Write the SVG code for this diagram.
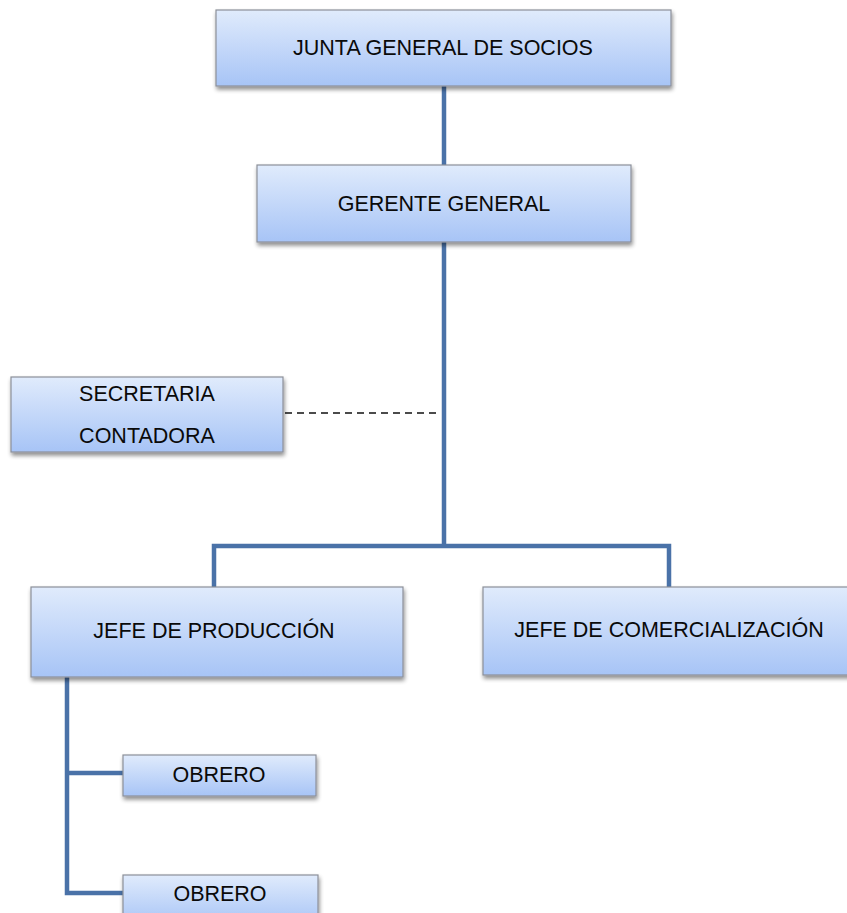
<svg xmlns="http://www.w3.org/2000/svg" width="847" height="913" viewBox="0 0 847 913">
<defs>
<linearGradient id="g" x1="0" y1="0" x2="0" y2="1">
<stop offset="0" stop-color="#e0ebfc"/>
<stop offset="1" stop-color="#a7c4f6"/>
</linearGradient>
<filter id="sh" x="-10%" y="-10%" width="120%" height="140%">
<feGaussianBlur in="SourceAlpha" stdDeviation="2"/>
<feOffset dx="1" dy="3"/>
<feComponentTransfer><feFuncA type="linear" slope="0.45"/></feComponentTransfer>
<feMerge><feMergeNode/><feMergeNode in="SourceGraphic"/></feMerge>
</filter>
</defs>
<style>
.box{fill:url(#g);stroke:#8c9099;stroke-width:1.2;filter:url(#sh)}
.t{font-family:"Liberation Sans",Arial,sans-serif;font-size:21.5px;fill:#0a0a0a;text-anchor:middle;dominant-baseline:central}
.c{fill:none;stroke:#4a72a8;stroke-width:4.5}
.d{fill:none;stroke:#111;stroke-width:1.6;stroke-dasharray:7 5}
</style>
<g id="connectors">
<line class="c" x1="444" y1="86" x2="444" y2="165"/>
<path class="c" d="M444 242 V546 M214 587 V546 H669 V587"/>
<line class="d" x1="285" y1="413" x2="441" y2="413"/>
<path class="c" d="M67 677 V893 H123 M67 773 H123"/>
</g>
<g id="junta"><rect class="box" x="216" y="10" width="455" height="76"/><text class="t" x="443" y="48">JUNTA GENERAL DE SOCIOS</text></g>
<g id="gerente"><rect class="box" x="257" y="165" width="374" height="77"/><text class="t" x="444" y="204">GERENTE GENERAL</text></g>
<g id="secretaria"><rect class="box" x="11" y="377" width="272" height="75"/><text class="t" x="147" y="394">SECRETARIA</text><text class="t" x="147" y="436">CONTADORA</text></g>
<g id="produccion"><rect class="box" x="31" y="587" width="372" height="90"/><text class="t" x="214" y="631">JEFE DE PRODUCCIÓN</text></g>
<g id="comercializacion"><rect class="box" x="483" y="587" width="372" height="88"/><text class="t" x="669" y="630">JEFE DE COMERCIALIZACIÓN</text></g>
<g id="obrero1"><rect class="box" x="123" y="755" width="193" height="41"/><text class="t" x="219" y="775">OBRERO</text></g>
<g id="obrero2"><rect class="box" x="123" y="875" width="195" height="50"/><text class="t" x="220" y="894">OBRERO</text></g>
</svg>
